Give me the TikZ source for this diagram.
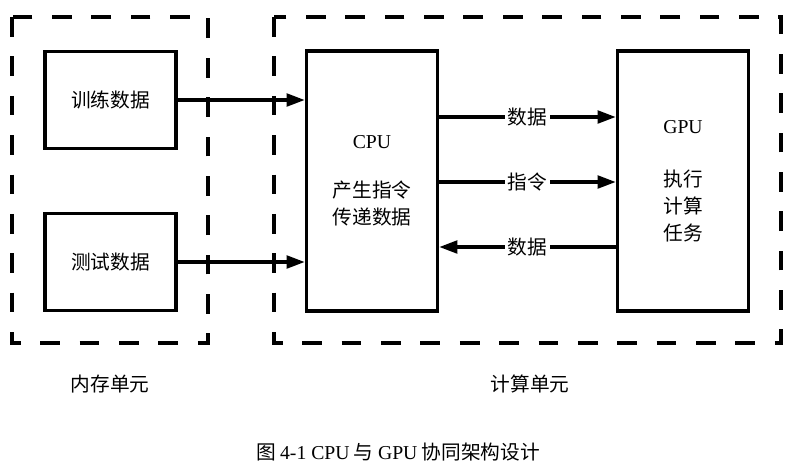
\documentclass[tikz,border=0pt]{standalone}
\usepackage{fontspec}
\setmainfont{Liberation Serif}
\newfontfamily\cjk{Noto Sans CJK SC}
\usetikzlibrary{arrows.meta}

\begin{document}
\begin{tikzpicture}[x=0.025cm, y=-0.025cm, line width=2.4pt, >={Triangle[length=13pt,width=9pt]},
		font=\cjk\fontsize{14}{19}\selectfont]
		\useasboundingbox (0,0) rectangle (795,470);
		
		% Unit frames
		\begin{scope}[dash pattern=on 14pt off 14pt]
			\draw (12,17) rectangle (208,343);
			\draw (274,17) rectangle (781,343);
		\end{scope}
		\node (mem) at (110,384) {内存单元};
		\node (comp) at (530,384) {计算单元};
		
		% Memory blocks
		\begin{scope}[every node/.style={draw,line width=2.4pt,inner sep=0pt,minimum width=3.275cm,minimum height=2.425cm}]
			\node (train) at (110.5,100) {训练数据};
			\node (test) at (110.5,262) {测试数据};
		\end{scope}
		
		% Compute blocks
		\begin{scope}[every node/.style={draw,line width=2.4pt,inner sep=0pt,align=center,minimum width=3.275cm,minimum height=6.5cm}]
			\node (cpu) at (372,181) {{\rmfamily CPU}\\[16pt]产生指令\\传递数据};
			\node (gpu) at (683,181) {{\rmfamily GPU}\\[19pt]执行\\计算\\任务};
		\end{scope}
		
		% Arrow heights
		\coordinate (d1) at (0,117);
		\coordinate (d2) at (0,182);
		\coordinate (d3) at (0,247);
		
		% Arrows
		\begin{scope}[every edge/.style={draw,line width=2.4pt}, every node/.style={fill=white,inner sep=2pt}]
			\path [->, line width=2.4pt] (train) edge (train -| cpu.west);
			\path [->, line width=2.4pt] (test) edge (test -| cpu.west);
			\path [->, line width=2.4pt] (cpu.east |- d1) edge node {数据} (gpu.west |- d1);
			\path [->, line width=2.4pt] (cpu.east |- d2) edge node {指令} (gpu.west |- d2);
			\path [->, line width=2.4pt] (gpu.west |- d3) edge node {数据} (cpu.east |- d3);
		\end{scope}
		
		% Caption
		\node (cap) at (398,452) {图 {\rmfamily 4-1 CPU} 与 {\rmfamily GPU} 协同架构设计};
		
	\end{tikzpicture}
\end{document}
